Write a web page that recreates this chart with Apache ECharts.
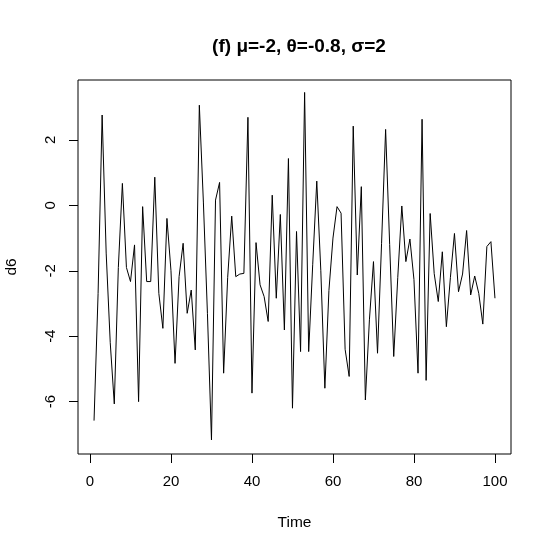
<!DOCTYPE html>
<html>
<head>
<meta charset="utf-8">
<script src="https://cdn.jsdelivr.net/npm/echarts@6/dist/echarts.min.js"></script>
<style>
  html, body { margin: 0; padding: 0; background: #fff; }
  #main { width: 560px; height: 560px; }
</style>
</head>
<body>
<div id="main"></div>
<script>
// series d6 (t = 1..100)
var d6 = [
  -6.58, -2.7, 2.76, -1.46, -4.2, -6.07, -1.9, 0.67, -1.9, -2.33,
  -1.21, -6.0, -0.04, -2.33, -2.33, 0.86, -2.69, -3.76, -0.4, -2.0,
  -4.83, -2.18, -1.16, -3.3, -2.59, -4.42, 3.06, 0.1, -3.3, -7.17,
  0.16, 0.7, -5.13, -2.2, -0.33, -2.18, -2.1, -2.08, 2.69, -5.74,
  -1.14, -2.43, -2.79, -3.55, 0.31, -2.84, -0.28, -3.81, 1.43, -6.2,
  -0.8, -4.47, 3.45, -4.47, -1.8, 0.74, -2.0, -5.59, -2.6, -1.0,
  -0.04, -0.24, -4.4, -5.23, 2.42, -2.13, 0.57, -5.95, -3.5, -1.72,
  -4.52, -1.16, 2.32, -1.2, -4.62, -2.2, -0.02, -1.72, -1.03, -2.27,
  -5.13, 2.63, -5.35, -0.25, -2.09, -2.94, -1.42, -3.71, -2.2, -0.86,
  -2.64, -2.1, -0.77, -2.74, -2.16, -2.69, -3.63, -1.26, -1.11, -2.84
];
var xTicks = [0, 20, 40, 60, 80, 100];
var yTicks = [-6, -4, -2, 0, 2];

var points = [];
for (var i = 0; i < d6.length; i++) {
  points.push([i + 1, d6[i]]);
}

var chart = echarts.init(document.getElementById('main'));
var font = 'Liberation Sans, Arial, sans-serif';

var option = {
  animation: false,
  title: {
    text: '(f) μ=-2, θ=-0.8, σ=2',
    left: 294,
    top: 32,
    textAlign: 'center',
    textStyle: { fontFamily: font, fontSize: 19, fontWeight: 'bold', color: '#000' }
  },
  grid: {
    left: 78, right: 49, top: 80, bottom: 106,
    outerBoundsMode: 'none',
    show: true, borderColor: '#000', borderWidth: 1, backgroundColor: 'transparent'
  },
  xAxis: {
    type: 'value',
    min: -2.96, max: 103.96,
    name: 'Time',
    nameLocation: 'middle',
    nameGap: 61,
    nameTextStyle: { fontFamily: font, fontSize: 15.5, color: '#000' },
    axisLine: { show: false, onZero: false },
    splitLine: { show: false },
    axisTick: { show: true, length: 9, customValues: xTicks, lineStyle: { color: '#000' } },
    axisLabel: { customValues: xTicks, margin: 20, fontFamily: font, fontSize: 15, color: '#000' }
  },
  yAxis: {
    type: 'value',
    min: -7.6, max: 3.83,
    name: 'd6',
    nameLocation: 'middle',
    nameGap: 58,
    nameRotate: 90,
    nameTextStyle: { fontFamily: font, fontSize: 15.5, color: '#000' },
    axisLine: { show: false, onZero: false },
    splitLine: { show: false },
    axisTick: { show: true, length: 9, customValues: yTicks, lineStyle: { color: '#000' } },
    axisLabel: { customValues: yTicks, rotate: 90, margin: 20, fontFamily: font, fontSize: 15, color: '#000' }
  },
  series: [{
    type: 'line',
    data: points,
    showSymbol: false,
    lineStyle: { color: '#000', width: 1 }
  }]
};

chart.setOption(option);
</script>
</body>
</html>
